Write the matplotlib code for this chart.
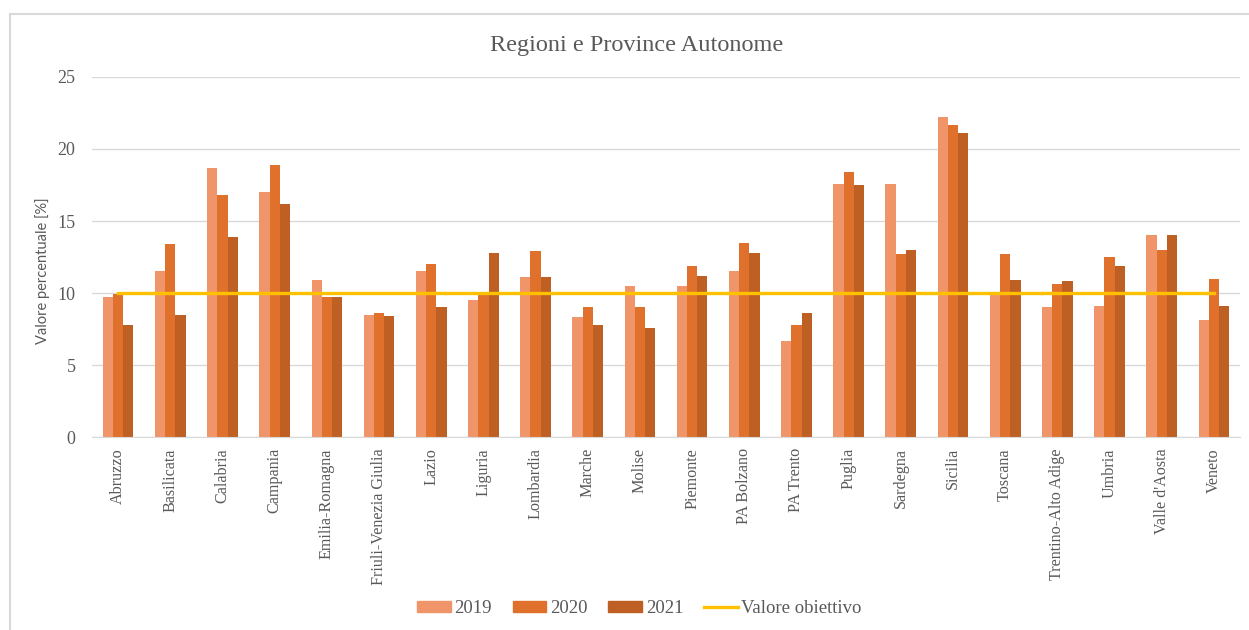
import numpy as np
import matplotlib.pyplot as plt
from matplotlib.lines import Line2D

regioni = ["Abruzzo", "Basilicata", "Calabria", "Campania", "Emilia-Romagna",
           "Friuli-Venezia Giulia", "Lazio", "Liguria", "Lombardia", "Marche",
           "Molise", "Piemonte", "PA Bolzano", "PA Trento", "Puglia", "Sardegna",
           "Sicilia", "Toscana", "Trentino-Alto Adige", "Umbria", "Valle d'Aosta",
           "Veneto"]
val_2019 = [9.7, 11.5, 18.7, 17.0, 10.9, 8.5, 11.5, 9.5, 11.1, 8.3, 10.5,
            10.5, 11.5, 6.7, 17.6, 17.6, 22.2, 9.9, 9.0, 9.1, 14.0, 8.1]
val_2020 = [9.9, 13.4, 16.8, 18.9, 9.7, 8.6, 12.0, 9.9, 12.9, 9.0, 9.0,
            11.9, 13.5, 7.8, 18.4, 12.7, 21.7, 12.7, 10.6, 12.5, 13.0, 11.0]
val_2021 = [7.8, 8.5, 13.9, 16.2, 9.7, 8.4, 9.0, 12.8, 11.1, 7.8, 7.6,
            11.2, 12.8, 8.6, 17.5, 13.0, 21.1, 10.9, 10.8, 11.9, 14.0, 9.1]
obiettivo = 10

anni = ["2019", "2020", "2021"]
colori = ["#F0956A", "#E0712D", "#BE5F24"]
grigio = "#595959"

plt.rcParams["font.family"] = ["Liberation Serif", "DejaVu Serif"]

fig = plt.figure(figsize=(12.49, 6.30), dpi=100)
ax = fig.add_axes([0.0737, 0.3063, 0.9191, 0.5715])

x = np.arange(len(regioni))
w = 0.196
for i, (serie, col, anno) in enumerate(zip([val_2019, val_2020, val_2021], colori, anni)):
    ax.bar(x + (i - 1) * w, serie, width=w, color=col, label=anno, zorder=2)

ax.plot(x, [obiettivo] * len(x), color="#FFC000", lw=2.4, zorder=3,
        label="Valore obiettivo")

ax.set_xlim(-0.5, len(regioni) - 0.5)
ax.set_ylim(0, 25)
ax.set_yticks([0, 5, 10, 15, 20, 25])
ax.yaxis.grid(True, color="#D9D9D9", lw=1, zorder=0)
ax.set_axisbelow(True)
for s in ["top", "right", "left"]:
    ax.spines[s].set_visible(False)
ax.spines["bottom"].set_color("#D9D9D9")

ax.set_xticks(x)
ax.set_xticklabels(regioni, rotation=90, fontsize=11.6, color=grigio)
ax.tick_params(axis="x", length=0, pad=8)
ax.tick_params(axis="y", length=0, pad=12, labelsize=13, labelcolor=grigio)

ax.set_ylabel("Valore percentuale [%]", fontsize=10.5, color=grigio,
              family=["Lato", "DejaVu Sans"])
ax.yaxis.set_label_coords(-0.0366, 0.461)
fig.text(0.51, 0.928, "Regioni e Province Autonome", fontsize=17.5,
         color=grigio, ha="center", va="center")

handles = [plt.Rectangle((0, 0), 1, 1, color=c) for c in colori]
handles.append(Line2D([0], [0], color="#FFC000", lw=2.4))
fig.legend(handles, anni + ["Valore obiettivo"], loc="center",
           bbox_to_anchor=(0.512, 0.034), ncol=4, frameon=False,
           fontsize=13.5, labelcolor=grigio, handlelength=1.8,
           handleheight=0.55, columnspacing=1.1, handletextpad=0.2)

# bordo dell'area del grafico
fig.add_artist(Line2D([10 / 1249, 1], [1 - 14 / 630, 1 - 14 / 630],
                      color="#D9D9D9", lw=1.5, transform=fig.transFigure))
fig.add_artist(Line2D([10 / 1249, 10 / 1249], [0, 1 - 14 / 630],
                      color="#D9D9D9", lw=1.5, transform=fig.transFigure))

fig.savefig("out.png", dpi=100)
